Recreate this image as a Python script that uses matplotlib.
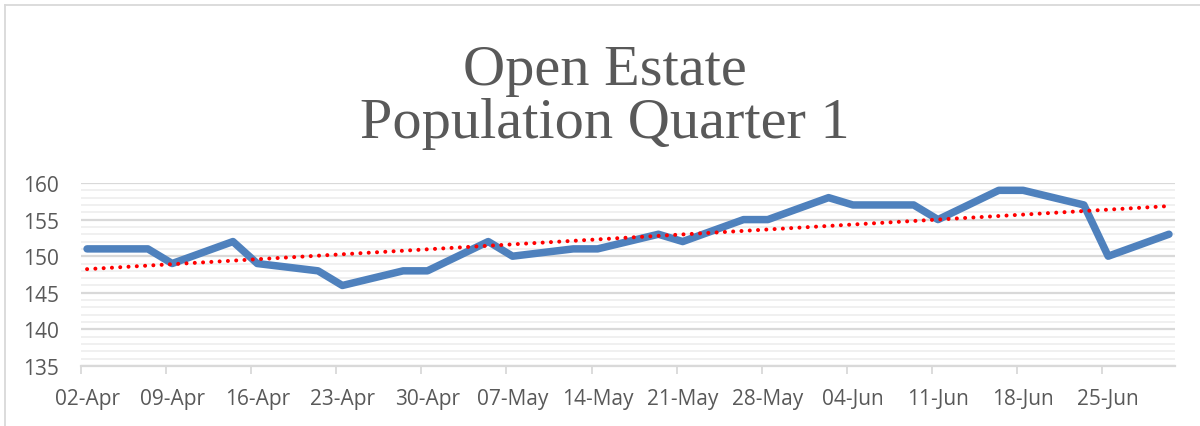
import numpy as np
import matplotlib
matplotlib.use("Agg")
import matplotlib.pyplot as plt
import matplotlib.dates as mdates
from matplotlib.lines import Line2D
from matplotlib.ticker import MultipleLocator, FixedLocator, NullFormatter

# data
dates = ["2018-04-02", "2018-04-07", "2018-04-09", "2018-04-14", "2018-04-16",
         "2018-04-21", "2018-04-23", "2018-04-28", "2018-04-30", "2018-05-05",
         "2018-05-07", "2018-05-12", "2018-05-14", "2018-05-19", "2018-05-21",
         "2018-05-26", "2018-05-28", "2018-06-02", "2018-06-04", "2018-06-09",
         "2018-06-11", "2018-06-16", "2018-06-18", "2018-06-23", "2018-06-25",
         "2018-06-30"]
population = [151, 151, 149, 152, 149, 148, 146, 148, 148, 152,
              150, 151, 151, 153, 152, 155, 155, 158, 157, 157,
              155, 159, 159, 157, 150, 153]
tick_dates = ["2018-04-02", "2018-04-09", "2018-04-16", "2018-04-23", "2018-04-30",
              "2018-05-07", "2018-05-14", "2018-05-21", "2018-05-28", "2018-06-04",
              "2018-06-11", "2018-06-18", "2018-06-25"]
tick_labels = ["02-Apr", "09-Apr", "16-Apr", "23-Apr", "30-Apr", "07-May", "14-May",
               "21-May", "28-May", "04-Jun", "11-Jun", "18-Jun", "25-Jun"]

x = mdates.date2num(np.array(dates, dtype="datetime64[D]"))
xt = mdates.date2num(np.array(tick_dates, dtype="datetime64[D]"))
y = np.array(population, dtype=float)

# linear trendline like Excel
k, b = np.polyfit(x, y, 1)

fig = plt.figure(figsize=(12, 4.27), dpi=100)
ax = fig.add_axes([0.0675, 0.1405, 0.9117, 0.4286])

ax.plot(x, y, color="#4F81BD", lw=5.4, solid_joinstyle="round",
        solid_capstyle="round", zorder=3)
ax.plot(x, k * x + b, color="#FF0000", lw=2.9, linestyle=(0, (0.01, 2.05)),
        dash_capstyle="round", zorder=4)

ax.set_xlim(x[0] - 0.5, x[-1] + 0.5)
ax.set_ylim(135, 160)

ax.yaxis.set_major_locator(MultipleLocator(5))
ax.yaxis.set_minor_locator(MultipleLocator(1))
ax.grid(which="major", axis="y", color="#d9d9d9", lw=1.6, zorder=0)
ax.grid(which="minor", axis="y", color="#efefef", lw=1.3, zorder=0)
ax.set_axisbelow(True)

# tick marks at slot edges, labels at slot centres
ax.xaxis.set_major_locator(FixedLocator(xt - 0.5))
ax.xaxis.set_major_formatter(NullFormatter())
ax.xaxis.set_minor_locator(FixedLocator(xt))
ax.set_xticklabels(tick_labels, minor=True)
ax.tick_params(axis="x", which="major", length=5.5, width=1.3, color="#d9d9d9")
ax.tick_params(axis="x", which="minor", length=0, pad=16,
               labelsize=15, labelcolor="#595959")
ax.tick_params(axis="y", which="both", length=0, pad=16,
               labelsize=15, labelcolor="#595959")
for lab in ax.get_xticklabels(minor=True) + ax.get_yticklabels():
    lab.set_fontfamily("Open Sans")

for s in ["top", "right", "left"]:
    ax.spines[s].set_visible(False)
ax.spines["bottom"].set_color("#d9d9d9")
ax.spines["bottom"].set_linewidth(1.6)

fig.text(0.504, 1 - 85 / 427, "Open Estate", ha="center", va="baseline",
         fontsize=42, color="#595959", family="Liberation Serif")
fig.text(0.504, 1 - 138 / 427, "Population Quarter 1", ha="center", va="baseline",
         fontsize=42, color="#595959", family="Liberation Serif")

# chart border (left and top edges visible)
fig.add_artist(Line2D([5 / 1200, 5 / 1200], [0, 1 - 6 / 427],
                      transform=fig.transFigure, color="#d9d9d9", lw=1.3))
fig.add_artist(Line2D([5 / 1200, 1], [1 - 6 / 427, 1 - 6 / 427],
                      transform=fig.transFigure, color="#d9d9d9", lw=1.3))

fig.savefig("out.png", dpi=100)
